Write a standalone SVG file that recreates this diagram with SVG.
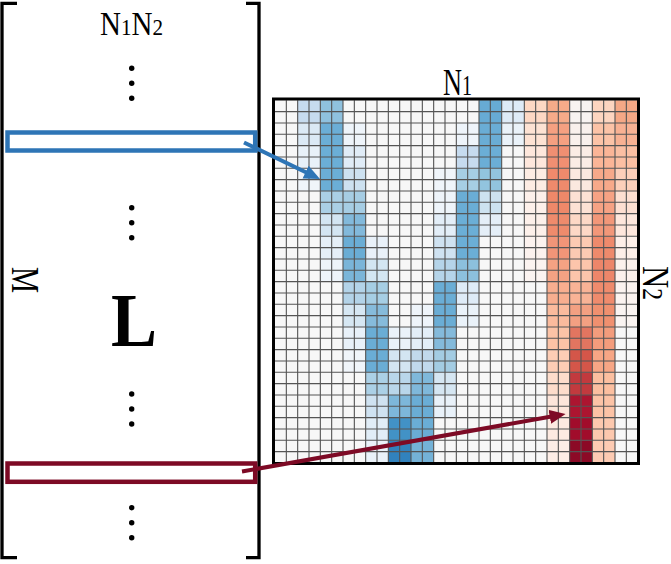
<svg xmlns="http://www.w3.org/2000/svg" width="671" height="564" viewBox="0 0 671 564">
<style>
.lbl{font-family:"Liberation Serif","Times New Roman",serif;fill:#000}
.dot{fill:#000}
.br{fill:none;stroke:#000;stroke-width:3.3}
</style>
<defs>
<marker id="ahBlue" markerUnits="userSpaceOnUse" markerWidth="17" markerHeight="15" refX="6" refY="7" orient="auto"><path d="M0,0 L16,7 L0,14 z" fill="#2e75b6"/></marker>
<marker id="ahRed" markerUnits="userSpaceOnUse" markerWidth="17" markerHeight="15" refX="6" refY="7" orient="auto"><path d="M0,0 L16,7 L0,14 z" fill="#7d0a25"/></marker>
</defs>
<rect width="671" height="564" fill="#fff"/>

<g id="matrix-L">
<path class="br" d="M17,3.3 H2 V557.7 H17"/>
<path class="br" d="M246,3.3 H259 V557.7 H246"/>
<text class="lbl" x="100" y="35" font-size="33" textLength="63" lengthAdjust="spacingAndGlyphs">N<tspan font-size="24">1</tspan>N<tspan font-size="24">2</tspan></text>
<text class="lbl" transform="translate(12,267) rotate(90)" x="0" y="0" font-size="41" textLength="26" lengthAdjust="spacingAndGlyphs">M</text>
<text class="lbl" x="111" y="346" font-size="77" font-weight="bold" textLength="46" lengthAdjust="spacingAndGlyphs">L</text>
<g>
<circle class="dot" cx="131.7" cy="68.3" r="2.7"/><circle class="dot" cx="131.7" cy="83.3" r="2.7"/><circle class="dot" cx="131.7" cy="98.3" r="2.7"/>
<circle class="dot" cx="131.7" cy="207.7" r="2.7"/><circle class="dot" cx="131.7" cy="222.7" r="2.7"/><circle class="dot" cx="131.7" cy="237.7" r="2.7"/>
<circle class="dot" cx="131.7" cy="394" r="2.7"/><circle class="dot" cx="131.7" cy="409" r="2.7"/><circle class="dot" cx="131.7" cy="424" r="2.7"/>
<circle class="dot" cx="131.7" cy="507.7" r="2.7"/><circle class="dot" cx="131.7" cy="522.7" r="2.7"/><circle class="dot" cx="131.7" cy="537.7" r="2.7"/>
</g>
<rect id="row-blue" x="7.5" y="132.5" width="247.7" height="18" fill="none" stroke="#2e75b6" stroke-width="4.5"/>
<rect id="row-red" x="7.5" y="463.5" width="247.7" height="18.3" fill="none" stroke="#7d0a25" stroke-width="4.5"/>
</g>

<g id="image-grid">
<text class="lbl" x="443" y="95" font-size="38" textLength="29" lengthAdjust="spacingAndGlyphs">N<tspan font-size="29">1</tspan></text>
<text class="lbl" transform="translate(643,266) rotate(90)" x="0" y="0" font-size="38" textLength="34" lengthAdjust="spacingAndGlyphs">N<tspan font-size="29">2</tspan></text>
<g transform="translate(275,100.3) scale(22.6667)">
<rect x="0" y="0" width="16" height="16" fill="#f7f7f7"/>
<rect x="1" y="0" width="1" height="1" fill="#c6dbef"/>
<rect x="1" y="1" width="1" height="1" fill="#dbe9f5"/>
<rect x="1" y="2" width="1" height="1" fill="#e8f1f9"/>
<rect x="1" y="3" width="1" height="1" fill="#f0f5fa"/>
<rect x="2" y="0" width="1" height="1" fill="#8fc1de"/>
<rect x="2" y="1" width="1" height="1" fill="#6baed6"/>
<rect x="2" y="2" width="1" height="1" fill="#6baed6"/>
<rect x="2" y="3" width="1" height="1" fill="#6baed6"/>
<rect x="2" y="4" width="1" height="1" fill="#aacfe5"/>
<rect x="2" y="5" width="1" height="1" fill="#d3e5f2"/>
<rect x="2" y="6" width="1" height="1" fill="#e5eff8"/>
<rect x="2" y="7" width="1" height="1" fill="#eef4fa"/>
<rect x="3" y="1" width="1" height="1" fill="#eef4fa"/>
<rect x="3" y="2" width="1" height="1" fill="#e0ecf7"/>
<rect x="3" y="3" width="1" height="1" fill="#cde1f0"/>
<rect x="3" y="4" width="1" height="1" fill="#a6cde4"/>
<rect x="3" y="5" width="1" height="1" fill="#82b9db"/>
<rect x="3" y="6" width="1" height="1" fill="#6aadd5"/>
<rect x="3" y="7" width="1" height="1" fill="#7ab5d9"/>
<rect x="3" y="8" width="1" height="1" fill="#b3d3e8"/>
<rect x="3" y="9" width="1" height="1" fill="#d6e7f3"/>
<rect x="3" y="10" width="1" height="1" fill="#e8f1f9"/>
<rect x="3" y="11" width="1" height="1" fill="#f0f5fa"/>
<rect x="4" y="6" width="1" height="1" fill="#e9f1f9"/>
<rect x="4" y="7" width="1" height="1" fill="#d3e6f2"/>
<rect x="4" y="8" width="1" height="1" fill="#a6cee4"/>
<rect x="4" y="9" width="1" height="1" fill="#86bbdb"/>
<rect x="4" y="10" width="1" height="1" fill="#6aadd5"/>
<rect x="4" y="11" width="1" height="1" fill="#6aadd5"/>
<rect x="4" y="12" width="1" height="1" fill="#abd0e6"/>
<rect x="4" y="13" width="1" height="1" fill="#cfe2f1"/>
<rect x="4" y="14" width="1" height="1" fill="#e1edf7"/>
<rect x="4" y="15" width="1" height="1" fill="#eaf2f9"/>
<rect x="5" y="10" width="1" height="1" fill="#eaf2f9"/>
<rect x="5" y="11" width="1" height="1" fill="#d3e5f2"/>
<rect x="5" y="12" width="1" height="1" fill="#b9d6ea"/>
<rect x="5" y="13" width="1" height="1" fill="#7db7da"/>
<rect x="5" y="14" width="1" height="1" fill="#4292c6"/>
<rect x="5" y="15" width="1" height="1" fill="#3182bd"/>
<rect x="6" y="9" width="1" height="1" fill="#eef4fa"/>
<rect x="6" y="10" width="1" height="1" fill="#e3eef8"/>
<rect x="6" y="11" width="1" height="1" fill="#c1d9ec"/>
<rect x="6" y="12" width="1" height="1" fill="#7fb8da"/>
<rect x="6" y="13" width="1" height="1" fill="#6aadd5"/>
<rect x="6" y="14" width="1" height="1" fill="#6aadd5"/>
<rect x="6" y="15" width="1" height="1" fill="#74b2d7"/>
<rect x="7" y="3" width="1" height="1" fill="#f0f5fa"/>
<rect x="7" y="4" width="1" height="1" fill="#eef4fa"/>
<rect x="7" y="5" width="1" height="1" fill="#e3eef8"/>
<rect x="7" y="6" width="1" height="1" fill="#cfe2f1"/>
<rect x="7" y="7" width="1" height="1" fill="#b5d4e9"/>
<rect x="7" y="8" width="1" height="1" fill="#6aadd5"/>
<rect x="7" y="9" width="1" height="1" fill="#6aadd5"/>
<rect x="7" y="10" width="1" height="1" fill="#84badb"/>
<rect x="7" y="11" width="1" height="1" fill="#a3cce3"/>
<rect x="7" y="12" width="1" height="1" fill="#d5e6f2"/>
<rect x="7" y="13" width="1" height="1" fill="#e8f1f9"/>
<rect x="8" y="1" width="1" height="1" fill="#eef4fa"/>
<rect x="8" y="2" width="1" height="1" fill="#c6dbef"/>
<rect x="8" y="3" width="1" height="1" fill="#a6cee4"/>
<rect x="8" y="4" width="1" height="1" fill="#6aadd5"/>
<rect x="8" y="5" width="1" height="1" fill="#6baed6"/>
<rect x="8" y="6" width="1" height="1" fill="#6baed6"/>
<rect x="8" y="7" width="1" height="1" fill="#8cc0dd"/>
<rect x="8" y="8" width="1" height="1" fill="#deebf7"/>
<rect x="8" y="9" width="1" height="1" fill="#eaf2f9"/>
<rect x="9" y="0" width="1" height="1" fill="#67abd4"/>
<rect x="9" y="1" width="1" height="1" fill="#6aadd5"/>
<rect x="9" y="2" width="1" height="1" fill="#6baed6"/>
<rect x="9" y="3" width="1" height="1" fill="#92c4de"/>
<rect x="9" y="4" width="1" height="1" fill="#cde2f0"/>
<rect x="9" y="5" width="1" height="1" fill="#e4eef7"/>
<rect x="10" y="0" width="1" height="1" fill="#deebf7"/>
<rect x="10" y="1" width="1" height="1" fill="#eaf2f9"/>
<rect x="11" y="0" width="1" height="1" fill="#fdd8c4"/>
<rect x="11" y="1" width="1" height="1" fill="#fde2d3"/>
<rect x="11" y="2" width="1" height="1" fill="#fee7dc"/>
<rect x="11" y="3" width="1" height="1" fill="#fdece3"/>
<rect x="11" y="4" width="1" height="1" fill="#fdf0ea"/>
<rect x="11" y="5" width="1" height="1" fill="#fdf0ea"/>
<rect x="11" y="6" width="1" height="1" fill="#fcf2ee"/>
<rect x="11" y="7" width="1" height="1" fill="#fbf3f0"/>
<rect x="12" y="0" width="1" height="1" fill="#f6ab89"/>
<rect x="12" y="1" width="1" height="1" fill="#f5a081"/>
<rect x="12" y="2" width="1" height="1" fill="#f08f72"/>
<rect x="12" y="3" width="1" height="1" fill="#ef8a6c"/>
<rect x="12" y="4" width="1" height="1" fill="#ee8869"/>
<rect x="12" y="5" width="1" height="1" fill="#ef8b6c"/>
<rect x="12" y="6" width="1" height="1" fill="#f19578"/>
<rect x="12" y="7" width="1" height="1" fill="#f5a283"/>
<rect x="12" y="8" width="1" height="1" fill="#f8ae8f"/>
<rect x="12" y="9" width="1" height="1" fill="#fbbb9d"/>
<rect x="12" y="10" width="1" height="1" fill="#fcc3a6"/>
<rect x="12" y="11" width="1" height="1" fill="#fdcdb5"/>
<rect x="12" y="12" width="1" height="1" fill="#fddccb"/>
<rect x="12" y="13" width="1" height="1" fill="#fde5da"/>
<rect x="12" y="14" width="1" height="1" fill="#fdeae1"/>
<rect x="12" y="15" width="1" height="1" fill="#fdede6"/>
<rect x="13" y="0" width="1" height="1" fill="#f8f3f1"/>
<rect x="13" y="1" width="1" height="1" fill="#f9f0ec"/>
<rect x="13" y="2" width="1" height="1" fill="#fbece5"/>
<rect x="13" y="3" width="1" height="1" fill="#fbe8df"/>
<rect x="13" y="4" width="1" height="1" fill="#fde1d4"/>
<rect x="13" y="5" width="1" height="1" fill="#fdd8c6"/>
<rect x="13" y="6" width="1" height="1" fill="#fccab2"/>
<rect x="13" y="7" width="1" height="1" fill="#fcc5ab"/>
<rect x="13" y="8" width="1" height="1" fill="#f9b396"/>
<rect x="13" y="9" width="1" height="1" fill="#f3a082"/>
<rect x="13" y="10" width="1" height="1" fill="#e27560"/>
<rect x="13" y="11" width="1" height="1" fill="#d45649"/>
<rect x="13" y="12" width="1" height="1" fill="#c23a3e"/>
<rect x="13" y="13" width="1" height="1" fill="#ac1530"/>
<rect x="13" y="14" width="1" height="1" fill="#a10c2b"/>
<rect x="13" y="15" width="1" height="1" fill="#8c0a26"/>
<rect x="14" y="0" width="1" height="1" fill="#fdd5c0"/>
<rect x="14" y="1" width="1" height="1" fill="#fcc3a7"/>
<rect x="14" y="2" width="1" height="1" fill="#fbb597"/>
<rect x="14" y="3" width="1" height="1" fill="#f7a98a"/>
<rect x="14" y="4" width="1" height="1" fill="#f6a284"/>
<rect x="14" y="5" width="1" height="1" fill="#f29779"/>
<rect x="14" y="6" width="1" height="1" fill="#ee8a6c"/>
<rect x="14" y="7" width="1" height="1" fill="#ed866a"/>
<rect x="14" y="8" width="1" height="1" fill="#ef8b6d"/>
<rect x="14" y="9" width="1" height="1" fill="#f0906f"/>
<rect x="14" y="10" width="1" height="1" fill="#f39c7c"/>
<rect x="14" y="11" width="1" height="1" fill="#f7a685"/>
<rect x="14" y="12" width="1" height="1" fill="#fbbfa0"/>
<rect x="14" y="13" width="1" height="1" fill="#fcc3a6"/>
<rect x="14" y="14" width="1" height="1" fill="#fcc8ae"/>
<rect x="14" y="15" width="1" height="1" fill="#fdcbb3"/>
<rect x="15" y="0" width="1" height="1" fill="#f5a886"/>
<rect x="15" y="1" width="1" height="1" fill="#f8b193"/>
<rect x="15" y="2" width="1" height="1" fill="#fbbfa3"/>
<rect x="15" y="3" width="1" height="1" fill="#fccfba"/>
<rect x="15" y="4" width="1" height="1" fill="#fddfd1"/>
<rect x="15" y="5" width="1" height="1" fill="#fee7dc"/>
<rect x="15" y="6" width="1" height="1" fill="#fdefe8"/>
<rect x="15" y="7" width="1" height="1" fill="#fcf1ec"/>
<rect x="15" y="8" width="1" height="1" fill="#fbf3f0"/>
<rect x="15" y="9" width="1" height="1" fill="#faf4f1"/>
</g>
<g transform="translate(275,100.3) scale(11.3333)">
<path fill="none" stroke="#545454" stroke-width="1.1" vector-effect="non-scaling-stroke" d="M1 0V32M2 0V32M3 0V32M4 0V32M5 0V32M6 0V32M7 0V32M8 0V32M9 0V32M10 0V32M11 0V32M12 0V32M13 0V32M14 0V32M15 0V32M16 0V32M17 0V32M18 0V32M19 0V32M20 0V32M21 0V32M22 0V32M23 0V32M24 0V32M25 0V32M26 0V32M27 0V32M28 0V32M29 0V32M30 0V32M31 0V32M0 1H32M0 2H32M0 3H32M0 4H32M0 5H32M0 6H32M0 7H32M0 8H32M0 9H32M0 10H32M0 11H32M0 12H32M0 13H32M0 14H32M0 15H32M0 16H32M0 17H32M0 18H32M0 19H32M0 20H32M0 21H32M0 22H32M0 23H32M0 24H32M0 25H32M0 26H32M0 27H32M0 28H32M0 29H32M0 30H32M0 31H32"/>
</g>
<rect x="273.5" y="99" width="365" height="364.5" fill="none" stroke="#000" stroke-width="3"/>
</g>

<g id="connectors">
<line x1="244" y1="142.5" x2="311" y2="174.7" stroke="#2e75b6" stroke-width="4" marker-end="url(#ahBlue)"/>
<line x1="242" y1="471.5" x2="555.7" y2="415.75" stroke="#7d0a25" stroke-width="4" marker-end="url(#ahRed)"/>
</g>
</svg>
